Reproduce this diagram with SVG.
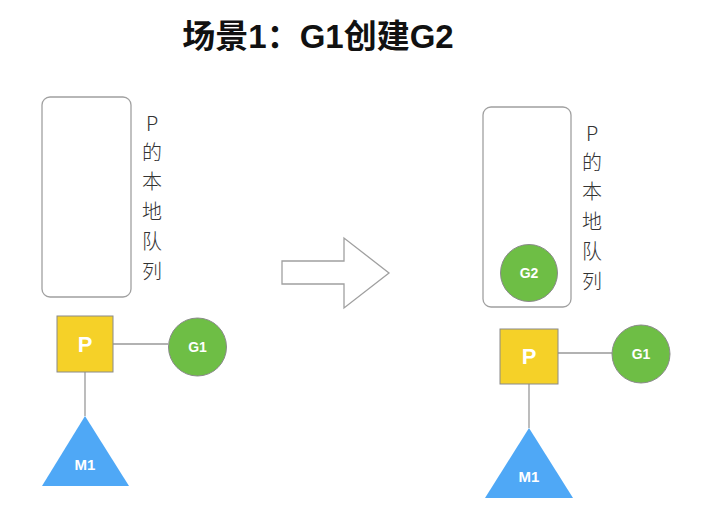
<svg xmlns="http://www.w3.org/2000/svg" width="702" height="512" viewBox="0 0 702 512">
<style>
.q{fill:#fff;stroke:#a0a0a0;stroke-width:1.3}
.p{fill:#F5D128;stroke:#8a8a8a;stroke-width:1}
.g{fill:#6EBE45;stroke:#8a8a8a;stroke-width:1}
.m{fill:#4FA8F6;stroke:none}
.ln{stroke:#999;stroke-width:1.3;fill:none}
.t{font-family:"Liberation Sans","Noto Sans CJK SC",sans-serif;font-weight:bold;fill:#fff;text-anchor:middle;dominant-baseline:central}
.side{font-family:"Noto Sans CJK SC","Liberation Sans",sans-serif;font-size:20px;fill:#333;text-anchor:middle;dominant-baseline:central;font-weight:300}
.title{font-family:"Liberation Sans","Noto Sans CJK SC",sans-serif;font-weight:bold;font-size:33px;fill:#111;text-anchor:middle}
</style>
<text class="title" x="318" y="48">场景1：G1创建G2</text>

<g id="connectors">
<line class="ln" x1="113" y1="344" x2="168" y2="344"/>
<line class="ln" x1="85" y1="372" x2="85" y2="416"/>
<line class="ln" x1="558" y1="353" x2="612" y2="353"/>
<line class="ln" x1="529" y1="384" x2="529" y2="428"/>
</g>

<g id="queue-left">
<rect class="q" x="42" y="97" width="89" height="200" rx="8"/>
<text class="side" x="152" y="122">P</text>
<text class="side" x="152" y="151">的</text>
<text class="side" x="152" y="180">本</text>
<text class="side" x="152" y="210">地</text>
<text class="side" x="152" y="240">队</text>
<text class="side" x="152" y="270">列</text>
</g>

<g id="arrow">
<polygon points="282,261 344,261 344,238 389,273 344,308 344,284 282,284" fill="#fff" stroke="#a0a0a0" stroke-width="1.3"/>
</g>

<g id="queue-right">
<rect class="q" x="483" y="107" width="88" height="200" rx="8"/>
<text class="side" x="592" y="132">P</text>
<text class="side" x="592" y="161">的</text>
<text class="side" x="592" y="190">本</text>
<text class="side" x="592" y="220">地</text>
<text class="side" x="592" y="250">队</text>
<text class="side" x="592" y="280">列</text>
</g>

<g id="G2">
<circle class="g" cx="529" cy="273" r="28.5"/>
<text class="t" x="529" y="273" font-size="14">G2</text>
</g>

<g id="P-left">
<rect class="p" x="57" y="316" width="56" height="56"/>
<text class="t" x="85" y="344" font-size="22">P</text>
</g>
<g id="G1-left">
<circle class="g" cx="197.5" cy="347" r="29"/>
<text class="t" x="197.5" y="347" font-size="14">G1</text>
</g>
<g id="M1-left">
<polygon class="m" points="85,416 129,486 42,486"/>
<text class="t" x="85" y="464" font-size="15">M1</text>
</g>

<g id="P-right">
<rect class="p" x="500" y="329" width="58" height="55"/>
<text class="t" x="529" y="356" font-size="22">P</text>
</g>
<g id="G1-right">
<circle class="g" cx="641" cy="354" r="29"/>
<text class="t" x="641" y="354" font-size="14">G1</text>
</g>
<g id="M1-right">
<polygon class="m" points="529,428 573,498 485,498"/>
<text class="t" x="529" y="476" font-size="15">M1</text>
</g>
</svg>
